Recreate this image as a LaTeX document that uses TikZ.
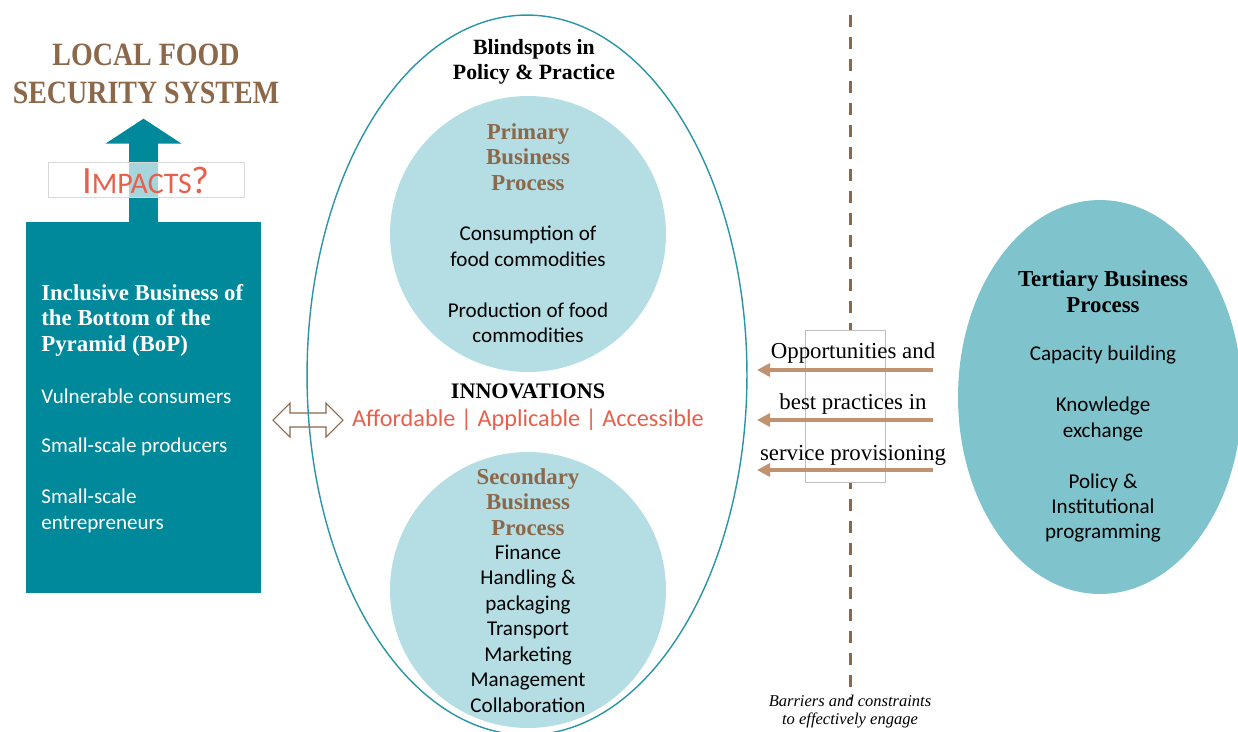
\documentclass[tikz,border=0pt]{standalone}
\usepackage{fontspec}
\setmainfont{Liberation Serif}
\setsansfont{Carlito}
\usepackage{tikz}
\usetikzlibrary{arrows.meta,shapes.geometric}

\definecolor{sarcelle}{RGB}{0,137,155}
\definecolor{contour}{RGB}{42,150,165}
\definecolor{bleuclair}{RGB}{180,222,228}
\definecolor{bleumoyen}{RGB}{127,196,205}
\definecolor{brun}{RGB}{140,104,75}
\definecolor{brunclair}{RGB}{192,146,112}
\definecolor{corail}{RGB}{232,96,76}

\begin{document}
\begin{tikzpicture}[x=0.02cm, y=-0.02cm,
    corps/.style={font=\sffamily\fontsize{12}{14.5}\selectfont, align=center, inner sep=0pt},
    titre/.style={font=\bfseries\fontsize{13}{14.5}\selectfont, align=center, inner sep=0pt},
    service/.style={inner sep=0pt, font=\fontsize{13}{14}\selectfont},
    fleche/.style={draw=brunclair, line width=0.08cm, -{Triangle[length=0.26cm,width=0.26cm]}}]
    \clip (0,0) rectangle (1238,731);
    \fill[white] (0,0) rectangle (1238,731);

    % Système alimentaire local
    \node[inner sep=0pt, align=center, text=brun, font=\bfseries\fontsize{18.5}{21.5}\selectfont] (systeme) at (146,74)
        {\scalebox{0.86}[1]{LOCAL FOOD}\\\scalebox{0.86}[1]{SECURITY SYSTEM}};

    % Bloc BoP
    \node[fill=sarcelle, minimum width=4.7cm, minimum height=7.42cm, inner sep=0pt] (bop) at (143.5,407.5) {};
    \node[titre, text=white, anchor=west, align=left] (bopt) at (41,320) {Inclusive Business of\\the Bottom of the\\Pyramid (BoP)};
    \node[corps, text=white, anchor=west] (conso) at (41,396) {Vulnerable consumers};
    \node[corps, text=white, anchor=west] (prod) at (41,447) {Small-scale producers};
    \node[corps, text=white, anchor=west, align=left] (entr) at (41,511) {Small-scale\\entrepreneurs};

    % Flèche vers le haut + impacts
    \draw[sarcelle, line width=0.6cm, -{Triangle[length=0.5cm,width=1.5cm]}] (bop.north) -- ++(0,-103);
    \node[draw=black!15, fill=white, fill opacity=0.65, text opacity=1, minimum width=3.92cm, minimum height=0.7cm, inner sep=0pt,
          text=corail, font=\sffamily\fontsize{22}{24}\selectfont] (impacts) at (146,180) {I{\fontsize{17}{18}\selectfont MPACTS}?};

    % Double flèche
    \draw[brun, fill=white, line width=0.6pt, line join=miter]
        (273,420) -- (290,403) -- (290,413) -- (326,413) -- (326,403) -- (343,420)
        -- (326,437) -- (326,427) -- (290,427) -- (290,437) -- cycle;

    % Grand ovale
    \node[ellipse, draw=contour, line width=0.8pt, minimum width=8.8cm, minimum height=14.4cm, inner sep=0pt] (ovale) at (527,375) {};
    \node[titre, font=\bfseries\fontsize{12.4}{14.5}\selectfont] (angles) at (534,62) {Blindspots in\\Policy \& Practice};

    % Processus primaire
    \node[circle, fill=bleuclair, minimum size=5.52cm, inner sep=0pt] (primaire) at (528,234) {};
    \node[titre, text=brun] (primt) at (528,157) {Primary\\Business\\Process};
    \node[corps] (primc) at (528,246.5) {Consumption of\\food commodities};
    \node[corps] (primp) at (528,322.5) {Production of food\\commodities};

    % Innovations
    \node[titre, font=\bfseries\fontsize{12.6}{16}\selectfont] (innov) at (528,391) {INNOVATIONS};
    \node[corps, text=corail, font=\sffamily\fontsize{13.8}{17}\selectfont] (aaa) at (528,420) {Affordable | Applicable | Accessible};

    % Processus secondaire
    \node[circle, fill=bleuclair, minimum size=5.52cm, inner sep=0pt] (secondaire) at (528,590) {};
    \node[titre, text=brun] (secot) at (528,502) {Secondary\\Business\\Process};
    \node[corps] (secol) at (528,628.5) {Finance\\Handling \&\\packaging\\Transport\\Marketing\\Management\\Collaboration};

    % Barrières
    \draw[brun, line width=0.06cm, dash pattern=on 0.24cm off 0.2cm] (850,15) -- (850,700);
    \node[draw=black!25, fill=white, minimum width=1.6cm, minimum height=3.04cm, inner sep=0pt] (cadre) at (845,406) {};
    \node[inner sep=0pt, align=center, font=\itshape\fontsize{9.4}{10.2}\selectfont] (barrieres) at (850,712) {Barriers and constraints\\to effectively engage};

    % Processus tertiaire
    \node[ellipse, fill=bleumoyen, minimum width=5.68cm, minimum height=7.88cm, inner sep=0pt] (tertiaire) at (1100,397) {};
    \node[titre] (tert) at (1103,291.5) {Tertiary Business\\Process};
    \node[corps] (tcap) at (1103,355) {Capacity building};
    \node[corps] (tsav) at (1103,419) {Knowledge\\exchange};
    \node[corps] (tpol) at (1103,508) {Policy \&\\Institutional\\programming};

    % Flèches des services
    \coordinate (d1) at (933,370); \coordinate (a1) at (757,370);
    \coordinate (d2) at (933,420); \coordinate (a2) at (757,420);
    \coordinate (d3) at (933,470); \coordinate (a3) at (757,470);
    \draw[fleche] (d1) -- (a1);
    \draw[fleche] (d2) -- (a2);
    \draw[fleche] (d3) -- (a3);
    \node[service] (opp) at (853,353) {Opportunities and};
    \node[service] (best) at (853,404) {best practices in};
    \node[service] (serv) at (853,455) {service provisioning};
\end{tikzpicture}
\end{document}
